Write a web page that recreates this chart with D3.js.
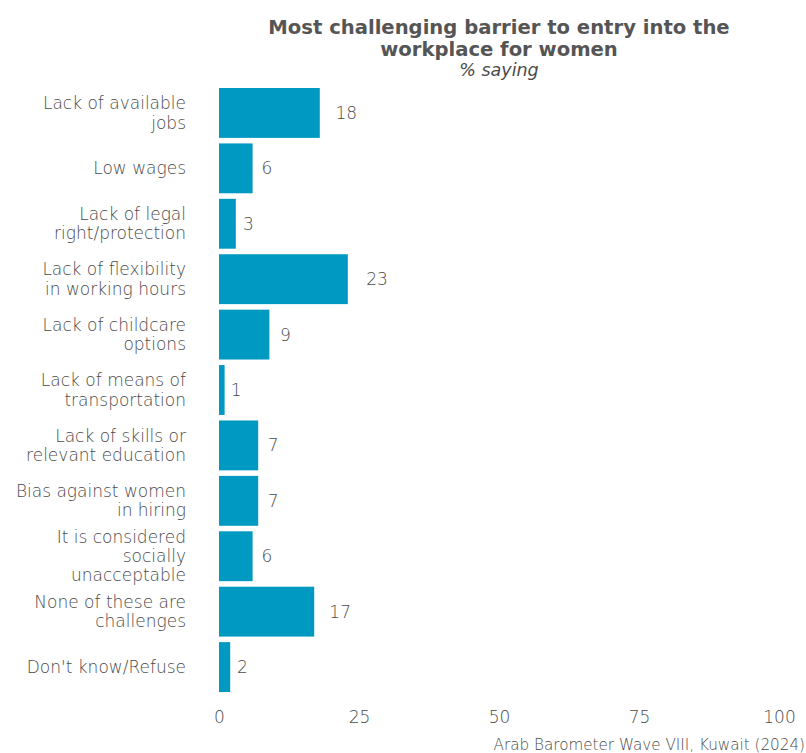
<!DOCTYPE html>
<html>
<head>
<meta charset="utf-8">
<script src="https://cdn.jsdelivr.net/npm/d3@7"></script>
<style>
  body { margin: 0; background: #fff; }
  svg text { font-family: "DejaVu Sans", sans-serif; fill: #555; }
  svg text.light { fill: #4a4a4a; }
</style>
</head>
<body>
<svg id="chart" width="806" height="753"></svg>
<script>
// Survey responses, Kuwait 2024
const categories = [
  "Lack of available\njobs",
  "Low wages",
  "Lack of legal\nright/protection",
  "Lack of flexibility\nin working hours",
  "Lack of childcare\noptions",
  "Lack of means of\ntransportation",
  "Lack of skills or\nrelevant education",
  "Bias against women\nin hiring",
  "It is considered\nsocially\nunacceptable",
  "None of these are\nchallenges",
  "Don't know/Refuse"
];
const values = [18, 6, 3, 23, 9, 1, 7, 7, 6, 17, 2];
const xTicks = [0, 25, 50, 75, 100];

const svg = d3.select("#chart");
const W = 806, H = 753;
const margin = { left: 219, right: 27, top: 88, bottom: 61 };

const x = d3.scaleLinear().domain([0, 100]).range([margin.left, W - margin.right]);
const y = d3.scaleBand().domain(categories).range([margin.top, H - margin.bottom])
  .paddingInner(0.1).paddingOuter(0);

// bars
svg.append("g").selectAll("rect").data(values).join("rect")
  .attr("x", x(0))
  .attr("y", (d, i) => y(categories[i]))
  .attr("width", d => x(d) - x(0))
  .attr("height", y.bandwidth())
  .attr("fill", "#0099c1");

// value labels
svg.append("g").selectAll("text").data(values).join("text")
  .attr("class", "light")
  .attr("x", d => x(d * 1.1 + 1))
  .attr("y", (d, i) => y(categories[i]) + y.bandwidth() / 2)
  .attr("dy", "0.35em")
  .style("font-size", "17px")
  .style("font-weight", 300)
  .text(d => d);

// category labels, one tspan per line
const lineH = 19.3;
const yAxis = svg.append("g").attr("transform", `translate(${x(0)},0)`)
  .call(d3.axisLeft(y).tickSize(0).tickFormat(""));
yAxis.select(".domain").remove();
yAxis.selectAll(".tick").each(function(d) {
  const lines = d.split("\n");
  const t = d3.select(this).append("text")
    .attr("class", "light")
    .attr("text-anchor", "end")
    .style("font-size", "17px")
    .style("font-weight", 300);
  lines.forEach((ln, k) => {
    t.append("tspan")
      .attr("x", -33)
      .attr("y", (k - (lines.length - 1) / 2) * lineH)
      .attr("dy", "0.35em")
      .text(ln);
  });
});

// x axis
const xAxis = svg.append("g").attr("transform", `translate(0,${y.range()[1] + 3})`)
  .call(d3.axisBottom(x).tickValues(xTicks).tickSize(0).tickPadding(16));
xAxis.select(".domain").remove();
xAxis.selectAll("text")
  .attr("class", "light")
  .style("font-size", "17px")
  .style("font-weight", 300)
  .style("font-family", null);

// titles
const cx = (x(0) + x(100)) / 2;
svg.append("text").attr("x", cx).attr("y", 34).attr("text-anchor", "middle")
  .style("font-size", "19.6px").style("font-weight", 700)
  .text("Most challenging barrier to entry into the");
svg.append("text").attr("x", cx).attr("y", 56).attr("text-anchor", "middle")
  .style("font-size", "19.6px").style("font-weight", 700)
  .text("workplace for women");
svg.append("text").attr("x", cx).attr("y", 75.5).attr("text-anchor", "middle")
  .attr("class", "light")
  .style("font-size", "17.5px").style("font-weight", 300).style("font-style", "italic")
  .text("% saying");

// caption
svg.append("text").attr("x", 805).attr("y", 750).attr("text-anchor", "end")
  .attr("class", "light")
  .style("font-size", "15.2px").style("font-weight", 300)
  .text("Arab Barometer Wave VIII, Kuwait (2024)");
</script>
</body>
</html>
